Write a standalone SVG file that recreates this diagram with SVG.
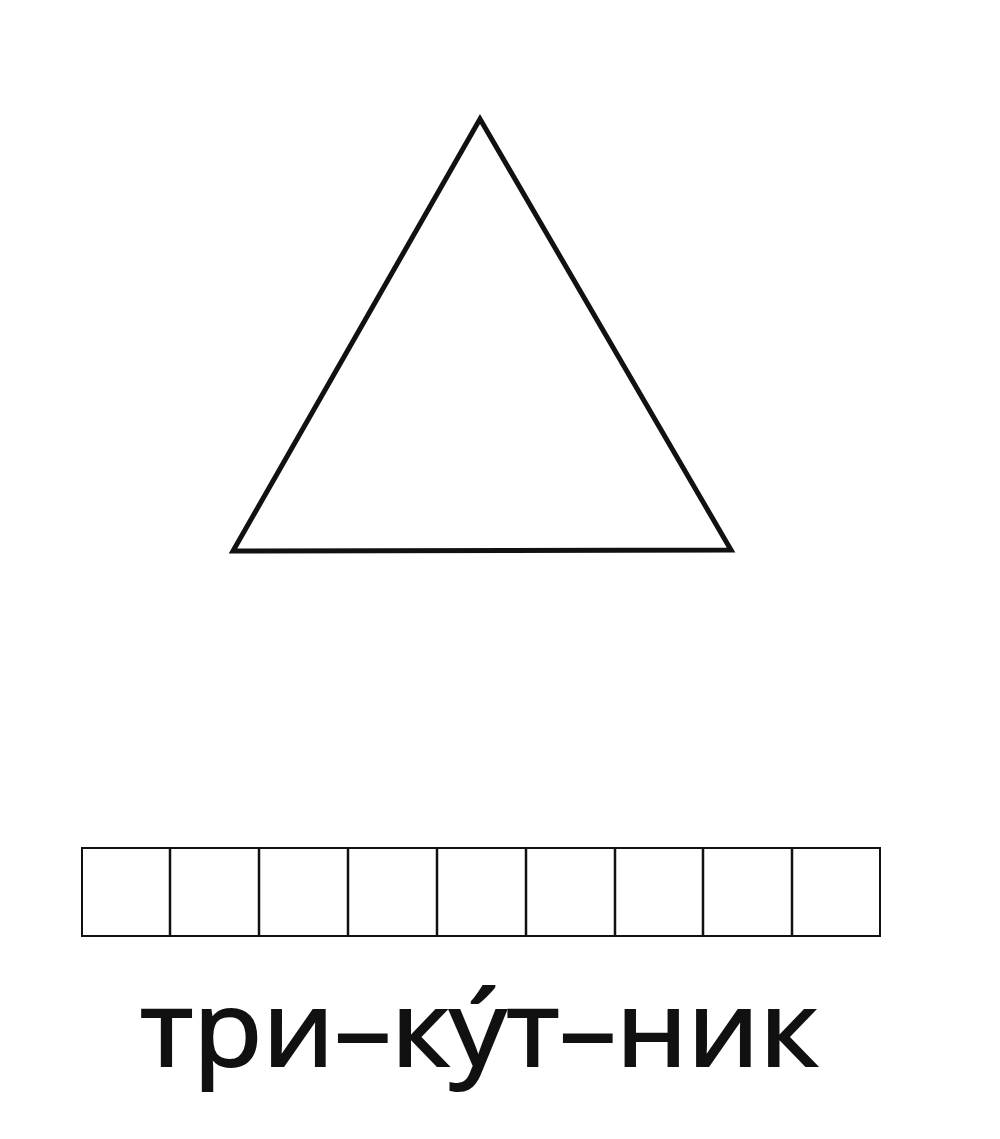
<svg xmlns="http://www.w3.org/2000/svg" width="1000" height="1139" viewBox="0 0 1000 1139">
<style>
.line{fill:none;stroke:#111;stroke-linejoin:miter}
.word{font-family:"Open Sans","Noto Sans","Liberation Sans",sans-serif;font-size:104px;fill:#111;stroke:#111;stroke-width:2}
</style>
<rect width="1000" height="1139" fill="#fff"/>
<g id="triangle">
<polygon class="line" stroke-width="5" points="480,119 233,551 731,550"/>
</g>
<g id="boxes">
<rect class="line" stroke-width="2" x="82" y="848" width="798" height="88"/>
<path class="line" stroke-width="2.5" d="M170,848V936M259,848V936M348,848V936M437,848V936M526,848V936M615,848V936M703,848V936M792,848V936"/>
</g>
<g id="label">
<text class="word" x="140" y="1066" textLength="678" lengthAdjust="spacingAndGlyphs">три–ку́т–ник</text>
</g>
</svg>
